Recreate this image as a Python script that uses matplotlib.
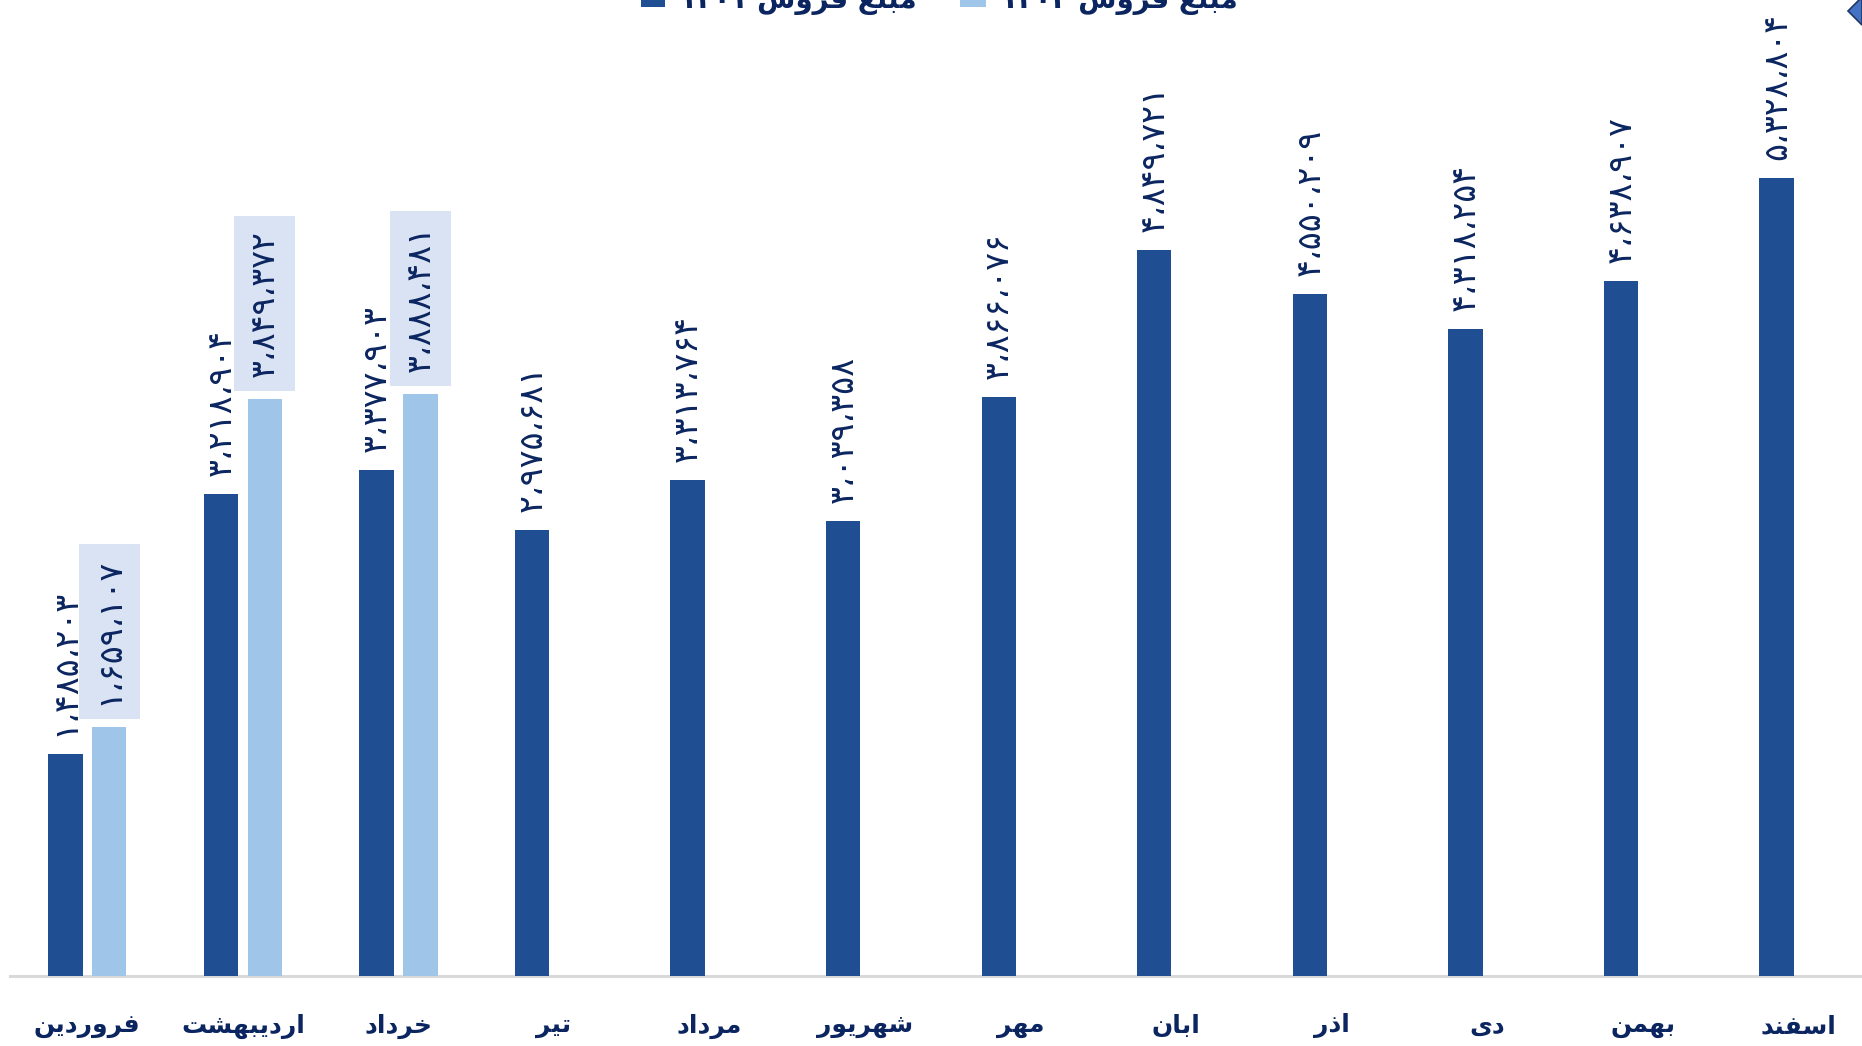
import matplotlib
matplotlib.use("Agg")
import matplotlib.pyplot as plt
from matplotlib.patches import Rectangle, Polygon

# ---------------- data ----------------
months = ["فروردین", "اردیبهشت", "خرداد", "تیر", "مرداد", "شهریور",
          "مهر", "ابان", "اذر", "دی", "بهمن", "اسفند"]
sales_1401 = [1485203, 3218904, 3377903, 2975681, 3313764, 3039358,
              3866076, 4849721, 4550209, 4318254, 4638907, 5328804]
sales_1402 = [1659107, 3849372, 3888481]
series_names = ["مبلغ فروش ۱۴۰۱", "مبلغ فروش ۱۴۰۲"]

# ---------------- minimal Persian shaping ----------------
FORMS = {  # isolated, final, initial, medial
    'ا': ('\uFE8D', '\uFE8E', None, None),
    'ب': ('\uFE8F', '\uFE90', '\uFE91', '\uFE92'),
    'ت': ('\uFE95', '\uFE96', '\uFE97', '\uFE98'),
    'خ': ('\uFEA5', '\uFEA6', '\uFEA7', '\uFEA8'),
    'د': ('\uFEA9', '\uFEAA', None, None),
    'ذ': ('\uFEAB', '\uFEAC', None, None),
    'ر': ('\uFEAD', '\uFEAE', None, None),
    'س': ('\uFEB1', '\uFEB2', '\uFEB3', '\uFEB4'),
    'ش': ('\uFEB5', '\uFEB6', '\uFEB7', '\uFEB8'),
    'غ': ('\uFECD', '\uFECE', '\uFECF', '\uFED0'),
    'ف': ('\uFED1', '\uFED2', '\uFED3', '\uFED4'),
    'ل': ('\uFEDD', '\uFEDE', '\uFEDF', '\uFEE0'),
    'م': ('\uFEE1', '\uFEE2', '\uFEE3', '\uFEE4'),
    'ن': ('\uFEE5', '\uFEE6', '\uFEE7', '\uFEE8'),
    'ه': ('\uFEE9', '\uFEEA', '\uFEEB', '\uFEEC'),
    'و': ('\uFEED', '\uFEEE', None, None),
    'ی': ('\uFBFC', '\uFBFD', '\uFBFE', '\uFBFF'),
}


def joins_next(ch):
    return ch in FORMS and FORMS[ch][2] is not None


def shape_word(w):
    out = []
    for i, ch in enumerate(w):
        if ch not in FORMS:
            out.append(ch)
            continue
        prev_j = i > 0 and joins_next(w[i - 1])
        next_j = i < len(w) - 1 and w[i + 1] in FORMS and joins_next(ch)
        iso, fin, ini, med = FORMS[ch]
        if prev_j and next_j:
            out.append(med)
        elif prev_j:
            out.append(fin)
        elif next_j:
            out.append(ini)
        else:
            out.append(iso)
    return ''.join(reversed(out))


def rtl(text):
    toks = text.split(' ')
    res = []
    for t in toks:
        if any(c in FORMS for c in t):
            res.append(shape_word(t))
        else:
            res.append(t)
    return ' '.join(reversed(res))


PDIG = str.maketrans('0123456789,', '۰۱۲۳۴۵۶۷۸۹،')


def fa_num(v):
    return f"{v:,}".translate(PDIG)


# ---------------- style ----------------
DARK = '#1F4E93'
LIGHT = '#9FC5E8'
BOXC = '#DAE3F3'
TXT = '#0B2560'
FONT = ['DejaVu Sans']

W, H = 1862, 1046
fig = plt.figure(figsize=(W / 100, H / 100), dpi=100)
ax_left = 9.5 / W
ax_w = 1866.7 / W
base_frac = 1 - 976 / H
ax = fig.add_axes([ax_left, base_frac, ax_w, 1 - base_frac])
ymax = 976 / 149.8
ax.set_xlim(-0.5, len(months) - 0.5)
ax.set_ylim(0, ymax)
for s in ax.spines.values():
    s.set_visible(False)
ax.set_xticks([])
ax.set_yticks([])
ax.axhline(0, color='#D9D9D9', lw=2.2, zorder=1, clip_on=False)

bw = 0.221
off = 0.141
x = list(range(len(months)))
v1 = [v / 1e6 for v in sales_1401]
v2 = [v / 1e6 for v in sales_1402]
ax.bar([i - off for i in x], v1, width=bw, color=DARK, zorder=2)
ax.bar([i + off for i in range(len(v2))], v2, width=bw, color=LIGHT, zorder=2)

LFS = 24
# data labels
for i, v in enumerate(sales_1401):
    ax.annotate(fa_num(v), (i - off, v / 1e6), xytext=(0, 18), textcoords='offset pixels',
                rotation=90, ha='center', va='bottom', fontsize=LFS, color=TXT,
                family=FONT, annotation_clip=False, zorder=3)
for i, v in enumerate(sales_1402):
    ax.annotate(fa_num(v), (i + off, v / 1e6), xytext=(0, 22), textcoords='offset pixels',
                rotation=90, ha='center', va='bottom', fontsize=LFS, color=TXT,
                family=FONT, annotation_clip=False, zorder=3,
                bbox=dict(boxstyle='square,pad=0.42', fc=BOXC, ec='none'))

# month labels
for i, m in enumerate(months):
    ax.text(i, -50 / 149.8, rtl(m), ha='center', va='center', fontsize=18,
            fontweight='bold', color=TXT, family=FONT)

# legend (cut at top, as in the reference)
leg_y = 1 - 1 / H
fig.patches.append(Rectangle((641 / W, 1 - 7 / H), 24 / W, 12 / H, transform=fig.transFigure,
                             fc=DARK, ec='none'))
fig.text(680 / W, leg_y, rtl(series_names[0]), ha='left', va='center', fontsize=20,
         fontweight='bold', color=TXT, family=FONT)
fig.patches.append(Rectangle((960 / W, 1 - 7 / H), 26 / W, 12 / H, transform=fig.transFigure,
                             fc=LIGHT, ec='none'))
fig.text(1001 / W, leg_y, rtl(series_names[1]), ha='left', va='center', fontsize=20,
         fontweight='bold', color=TXT, family=FONT)

# selection handle artifact at top right
fig.patches.append(Polygon([(1848 / W, 1 - 11 / H), (1862 / W, 1 + 3 / H),
                            (1862 / W, 1 - 25 / H)], closed=True,
                           transform=fig.transFigure, fc='#4472C4', ec='#1F3864', lw=1.2))

fig.savefig('out.png', dpi=100)
